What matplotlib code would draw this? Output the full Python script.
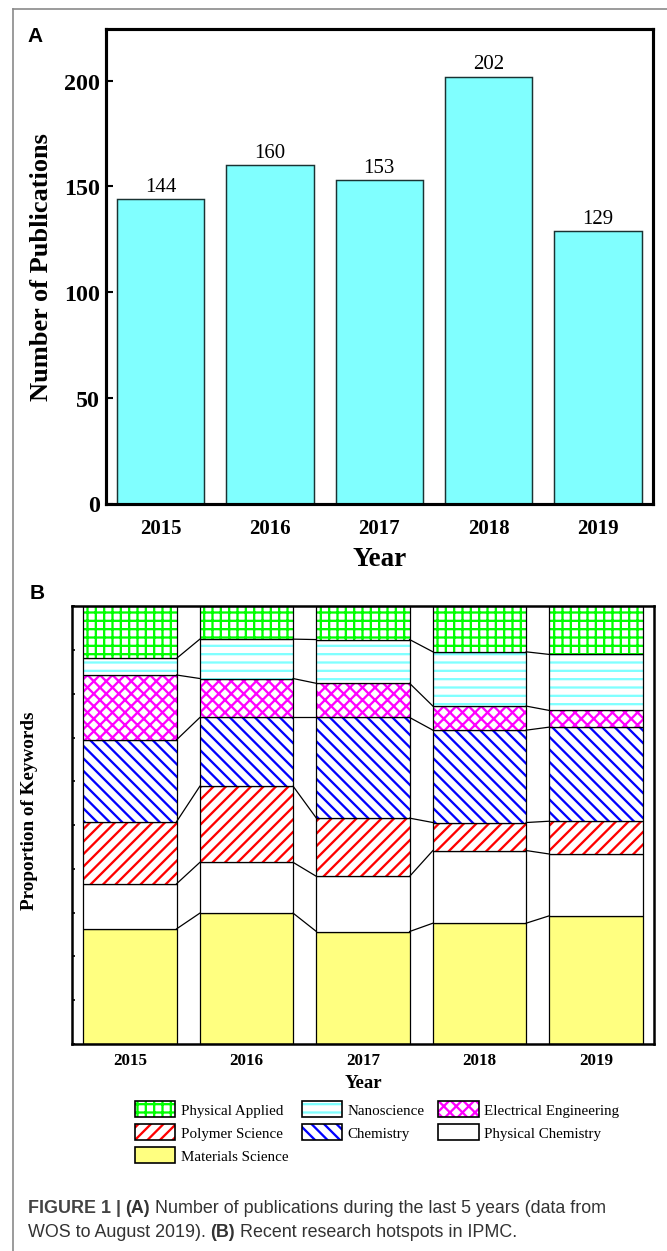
import numpy as np
import matplotlib
matplotlib.use("Agg")
import matplotlib.pyplot as plt
from matplotlib.patches import Patch
from matplotlib.lines import Line2D

years = [2015, 2016, 2017, 2018, 2019]
publications = [144, 160, 153, 202, 129]

# keyword shares (%) per year, stacked from the bottom up
materials_science = [26.3, 29.9, 25.7, 27.6, 29.3]
physical_chemistry = [10.3, 11.6, 12.6, 16.6, 14.1]
polymer_science = [14.2, 17.4, 13.3, 6.4, 7.5]
chemistry = [18.7, 15.7, 23.0, 21.1, 21.5]
electrical_engineering = [14.8, 8.9, 7.8, 5.5, 3.8]
nanoscience = [3.8, 9.0, 10.0, 12.4, 12.8]
physical_applied = [11.9, 7.5, 7.6, 10.4, 11.0]

W, H, DPI = 667, 1252, 150
plt.rcParams['font.family'] = ['Liberation Serif', 'DejaVu Serif']
plt.rcParams['hatch.linewidth'] = 1.1

fig = plt.figure(figsize=(W / DPI, H / DPI), dpi=DPI)


def fx(px):
    return px / W


def fy(py):
    return 1 - py / H


# ---- panel A: publications per year ----
axA = fig.add_axes([fx(106), fy(504.5), fx(652.5) - fx(106), fy(30) - fy(504.5)])
x = np.array(years)
bw = 0.8
axA.bar(x, publications, bw, color='#80ffff', edgecolor='#1a3333', linewidth=0.7)
for xi, v in zip(x, publications):
    axA.annotate(str(v), (xi, v), xytext=(0, 1.5), textcoords='offset points',
                 ha='center', va='bottom', fontsize=10)
axA.set_xlim(2014.5, 2019.5)
axA.set_ylim(0, 224.5)
axA.set_yticks([0, 50, 100, 150, 200])
axA.set_xticks(years)
axA.tick_params(axis='y', direction='in', length=3.2, width=1.0, labelsize=11.5, pad=3)
axA.tick_params(axis='x', length=0, labelsize=10, pad=7)
for lab in axA.get_xticklabels() + axA.get_yticklabels():
    lab.set_fontweight('bold')
for sp in axA.spines.values():
    sp.set_linewidth(1.5)
axA.set_ylabel('Number of Publications', fontsize=12.7, fontweight='bold', labelpad=5)
axA.set_xlabel('Year', fontsize=13, fontweight='bold', labelpad=4)

# ---- panel B: keyword proportions ----
axB = fig.add_axes([fx(71.7), fy(1045), fx(654.3) - fx(71.7), fy(607.3) - fy(1045)])
layers = [
    ('Materials Science', materials_science, '#ffff80', '#ffff80', None),
    ('Physical Chemistry', physical_chemistry, 'white', 'white', None),
    ('Polymer Science', polymer_science, 'white', '#ff0000', '////'),
    ('Chemistry', chemistry, 'white', '#0000ff', '\\\\\\\\'),
    ('Electrical Engineering', electrical_engineering, 'white', '#ff00ff', 'xxxx'),
    ('Nanoscience', nanoscience, 'white', '#80ffff', '---'),
    ('Physical Applied', physical_applied, 'white', '#00ff00', '+++'),
]
bottom = np.zeros(len(years))
tops = []
handles = {}
for name, vals, face, hc, hatch in layers:
    vals = np.array(vals)
    axB.bar(x, vals, bw, bottom=bottom, facecolor=face, edgecolor=hc,
            hatch=hatch, linewidth=0)
    axB.bar(x, vals, bw, bottom=bottom, fill=False, edgecolor='black', linewidth=0.6)
    bottom = bottom + vals
    tops.append(bottom.copy())
    handles[name] = (Patch(facecolor=face, edgecolor=hc, hatch=hatch, linewidth=0),
                     Patch(fill=False, edgecolor='black', linewidth=0.8))

# join the segment boundaries of neighbouring bars
for t in tops[:-1]:
    for i in range(len(years) - 1):
        axB.plot([x[i] + bw / 2, x[i + 1] - bw / 2], [t[i], t[i + 1]],
                 color='black', linewidth=0.6)

axB.set_xlim(2014.5, 2019.5)
axB.set_ylim(0, 100)
axB.set_yticks(np.arange(0, 101, 10))
axB.set_yticklabels([])
axB.set_xticks(years)
axB.tick_params(axis='y', direction='in', length=1.5, width=0.8)
axB.tick_params(axis='x', length=0, labelsize=8.2, pad=4)
for lab in axB.get_xticklabels():
    lab.set_fontweight('bold')
for sp in axB.spines.values():
    sp.set_linewidth(1.2)
axB.set_ylabel('Proportion of Keywords', fontsize=9.2, fontweight='bold')
axB.yaxis.set_label_coords(-0.057, 0.535)
axB.set_xlabel('Year', fontsize=9, fontweight='bold', labelpad=2.5)

order = ['Physical Applied', 'Polymer Science', 'Materials Science',
         'Nanoscience', 'Chemistry', 'Electrical Engineering', 'Physical Chemistry']
fig.legend([handles[n] for n in order], order, loc='upper center',
           bbox_to_anchor=(fx(377), fy(1094)), ncol=3, frameon=False,
           fontsize=7.2, handlelength=2.7, handleheight=1.3, handletextpad=0.35,
           columnspacing=0.9, labelspacing=0.45, borderpad=0)

# panel letters
fig.text(fx(35), fy(37), 'A', family='Liberation Sans', fontweight='bold',
         fontsize=10, ha='center', va='center')
fig.text(fx(37), fy(594), 'B', family='Liberation Sans', fontweight='bold',
         fontsize=10, ha='center', va='center')

# figure frame
fig.add_artist(Line2D([fx(13), fx(13)], [0, fy(10)], color='#8a8a8a', linewidth=0.8,
                      transform=fig.transFigure))
fig.add_artist(Line2D([fx(13), 1], [fy(10), fy(10)], color='#8a8a8a', linewidth=0.8,
                      transform=fig.transFigure))

# caption with mixed weights
renderer = fig.canvas.get_renderer()


def caption_line(ypx, parts):
    xpos = fx(28)
    for txt, weight, col in parts:
        t = fig.text(xpos, fy(ypx), txt, family='Liberation Sans', fontweight=weight,
                     fontsize=8.6, color=col, ha='left', va='center')
        xpos += t.get_window_extent(renderer=renderer).width / W + fx(4.5)


caption_line(1209, [('FIGURE 1 |', 'bold', '#444444'), ('(A)', 'bold', '#333333'),
                    ('Number of publications during the last 5 years (data from', 'normal', '#333333')])
caption_line(1233, [('WOS to August 2019).', 'normal', '#333333'), ('(B)', 'bold', '#333333'),
                    ('Recent research hotspots in IPMC.', 'normal', '#333333')])

fig.savefig('out.png', dpi=DPI)
